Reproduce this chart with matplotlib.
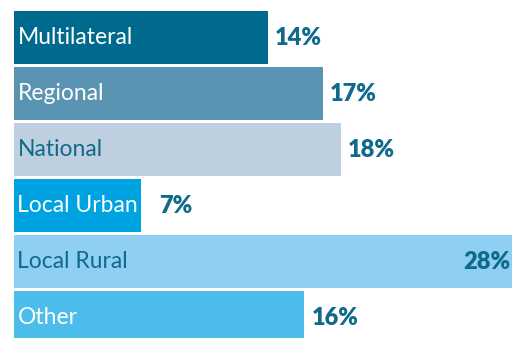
import matplotlib
matplotlib.use('Agg')
import matplotlib.pyplot as plt

# data
categories = ['Multilateral', 'Regional', 'National', 'Local Urban', 'Local Rural', 'Other']
shares = [14, 17, 18, 7, 28, 16]

bar_colors = ['#006a8e', '#5b94b2', '#bed0df', '#00a3e1', '#8fcff1', '#4cbdea']
name_colors = ['white', 'white', '#0f6a8b', 'white', '#0f6a8b', 'white']
dark = '#0f6a8b'

plt.rcParams['font.family'] = ['Lato', 'DejaVu Sans']

fig = plt.figure(figsize=(5.12, 3.38), dpi=100)
ax = fig.add_axes([0, 0, 1, 1])

pos = list(range(len(categories)))
ax.barh(pos, shares, height=53 / 56, color=bar_colors, left=0)

ax.set_xlim(-0.77, 27.44)
ax.set_ylim(5.366, -0.67)
ax.axis('off')

for i, (name, v) in enumerate(zip(categories, shares)):
    ax.annotate(name, xy=(0, i), xytext=(2.5, 0), textcoords='offset points',
                ha='left', va='center', fontsize=16.5, color=name_colors[i])
    lab = str(v) + '%'
    if v == max(shares):
        # no room outside, put it inside the bar
        ax.annotate(lab, xy=(27.44, i), xytext=(-1, 0), textcoords='offset points',
                    ha='right', va='center', fontsize=17, fontweight='heavy', color=dark)
    else:
        off = 13 if v < 10 else 5
        ax.annotate(lab, xy=(v, i), xytext=(off, 0), textcoords='offset points',
                    ha='left', va='center', fontsize=17, fontweight='heavy', color=dark)

plt.savefig('out.png', dpi=100)
